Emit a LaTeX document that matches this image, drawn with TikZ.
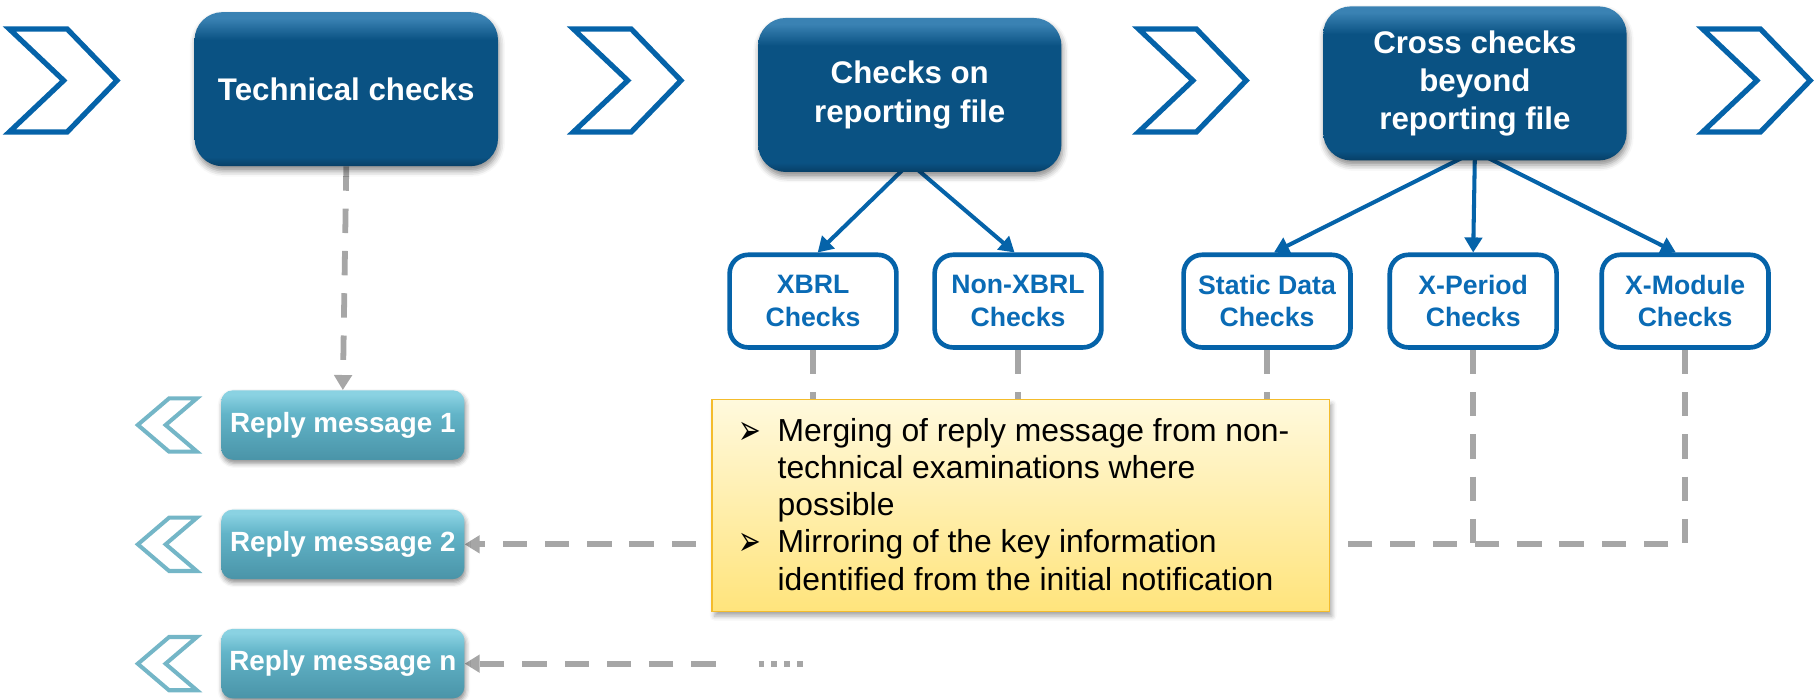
\documentclass[tikz,border=0pt]{standalone}
\usepackage{graphicx}
\usepackage{fontspec}
\setmainfont{Liberation Sans}
\newfontfamily\symbolfont{DejaVu Sans}
\usetikzlibrary{arrows.meta,shadows.blur,backgrounds,calc}

\definecolor{navy}{HTML}{0A5283}
\definecolor{navydark}{HTML}{073F66}
\definecolor{navylight}{HTML}{3A82B3}
\definecolor{cblue}{HTML}{0563A9}
\definecolor{ctext}{HTML}{0A6BB5}
\definecolor{tealtop}{HTML}{8AD2E2}
\definecolor{tealmid}{HTML}{62B4C8}
\definecolor{tealbot}{HTML}{4A94A8}
\definecolor{tealline}{HTML}{74B6C7}
\definecolor{dashgray}{HTML}{A6A6A6}
\definecolor{notetop}{HTML}{FFF9DD}
\definecolor{notebot}{HTML}{FFE47C}
\definecolor{noteline}{HTML}{F4BC2C}

\pgfdeclareverticalshading{navyshade}{100bp}{%
  color(0bp)=(navydark); color(25bp)=(navydark); color(28bp)=(navy);
  color(66bp)=(navy); color(73bp)=(navylight); color(75bp)=(navylight);
  color(100bp)=(navylight)}
\pgfdeclareverticalshading{tealshade}{100bp}{%
  color(0bp)=(tealbot); color(25bp)=(tealbot); color(58bp)=(tealmid);
  color(72bp)=(tealtop); color(75bp)=(tealtop); color(100bp)=(tealtop)}

\newcommand{\notebullet}{\raisebox{-2pt}[0pt][0pt]{\scalebox{0.65}[1]{\symbolfont\fontsize{36}{36}\selectfont ➢}}}

\begin{document}
\begin{tikzpicture}[x=1pt,y=-1pt,
  bigbox/.style={rounded corners=24pt, minimum width=262pt, minimum height=133pt,
    shading=navyshade, text=white, align=center,
    font=\bfseries\fontsize{27}{33}\selectfont,
    blur shadow={shadow xshift=1pt, shadow yshift=-4pt, shadow blur radius=5pt, shadow opacity=45}},
  checkbox/.style={draw=cblue, line width=4pt, rounded corners=16pt, fill=white,
    minimum width=144pt, minimum height=80pt, text=ctext, align=center,
    font=\bfseries\fontsize{23}{28}\selectfont},
  replybox/.style={rounded corners=10pt, minimum width=210pt, minimum height=60pt,
    shading=tealshade, text=white, font=\bfseries\fontsize{24}{28}\selectfont,
    blur shadow={shadow xshift=1pt, shadow yshift=-3pt, shadow blur radius=4pt, shadow opacity=45}},
  notebox/.style={draw=noteline, line width=1.5pt, top color=notetop, bottom color=notebot,
    minimum width=533pt, minimum height=183pt,
    blur shadow={shadow xshift=2pt, shadow yshift=-4pt, shadow blur radius=4pt, shadow opacity=35}},
  notetext/.style={inner sep=0pt, align=left, text=black, font=\fontsize{27.5}{32}\selectfont},
  topchev/.style={draw=cblue, line width=4.5pt, miter limit=10},
  replychev/.style={draw=tealline, line width=3.5pt, miter limit=10},
  bluearrow/.style={draw=cblue, line width=3.5pt, -{Triangle[length=13pt,width=15pt]}},
  replyline/.style={draw=dashgray, line width=5pt, dash pattern=on 21pt off 15.5pt},
  replyarrow/.style={replyline, -{Triangle[length=13pt,width=15pt]}},
  dotline/.style={draw=dashgray, line width=5pt, dash pattern=on 5pt off 6pt}]

\useasboundingbox (0,0) rectangle (1568,604);

% process chevrons along the top
\foreach \x in {8,495,983,1470}
  \draw[topchev] (\x,25) -- ++(50,0) -- ++(43,44.5) -- ++(-43,44.5) -- ++(-50,0)
    -- ++(47,-44.5) -- cycle;

% reply chevrons on the left
\foreach \y in {367,470,573}
  \draw[replychev] (170,\y-23) -- (146,\y-23) -- (119,\y) -- (146,\y+23)
    -- (170,\y+23) -- (143,\y) -- cycle;

% main check stages
\node[bigbox] (tech) at (299,77) {Technical checks};
\node[bigbox] (chk) at (785.5,82) {Checks on\\reporting file};
\node[bigbox] (cross) at (1273.5,72) {Cross checks\\beyond\\reporting file};

% detailed checks
\node[checkbox] (xbrl) at (702,260) {XBRL\\Checks};
\node[checkbox] (nonx) at (879,260) {Non-XBRL\\Checks};
\node[checkbox] (stat) at (1094,260) {Static Data\\Checks};
\node[checkbox] (xper) at (1272,260) {X-Period\\Checks};
\node[checkbox] (xmod) at (1455,260) {X-Module\\Checks};

% reply messages
\node[replybox] (r1) at (296,367) {Reply message 1};
\node[replybox] (r2) at (296,470) {Reply message 2};
\node[replybox] (rn) at (296,573) {Reply message n};

% explanatory note
\node[notebox] (note) at (881.5,436.5) {};
\node[notetext, anchor=north west] (notelist) at ([xshift=23pt,yshift=-14.6pt]note.north west) {%
  \begin{tabular}{@{}l@{}l@{}}
  \makebox[34pt][l]{\notebullet} & Merging of reply message from non-\\
  & technical examinations where\\
  & possible\\
  \notebullet & Mirroring of the key information\\
  & identified from the initial notification
  \end{tabular}};

\coordinate (dashstart) at (618,573);
\coordinate (dotsA) at (655,573);
\coordinate (dotsB) at (694,573);

\begin{scope}[on background layer]
  % stage to detailed checks
  \draw[bluearrow] ($(chk.south)+(0,-8)$) -- ($(xbrl.north)+(4,0)$);
  \draw[bluearrow] ($(chk.south)+(0,-8)$) -- ($(nonx.north)+(-3,0)$);
  \draw[bluearrow] ($(cross.south)+(0,-8)$) -- ($(stat.north)+(6,0)$);
  \draw[bluearrow] ($(cross.south)+(0,-8)$) -- (xper.north);
  \draw[bluearrow] ($(cross.south)+(0,-8)$) -- ($(xmod.north)+(-8,0)$);

  % paths to the reply messages
  \draw[replyarrow] (tech.south) -- (r1.north);
  \draw[replyline] (xbrl.south) -- (xbrl.south |- note.center);
  \draw[replyline] (nonx.south) -- (nonx.south |- note.center);
  \draw[replyline] (stat.south) -- (stat.south |- note.center);
  \draw[replyline] (xper.south) -- (xper.south |- r2.east);
  \draw[replyarrow] (xmod.south) -- (xmod.south |- r2.east) -- (r2.east);
  \draw[replyarrow] (dashstart) -- (rn.east);
  \draw[dotline] (dotsA) -- (dotsB);
\end{scope}

\end{tikzpicture}
\end{document}
